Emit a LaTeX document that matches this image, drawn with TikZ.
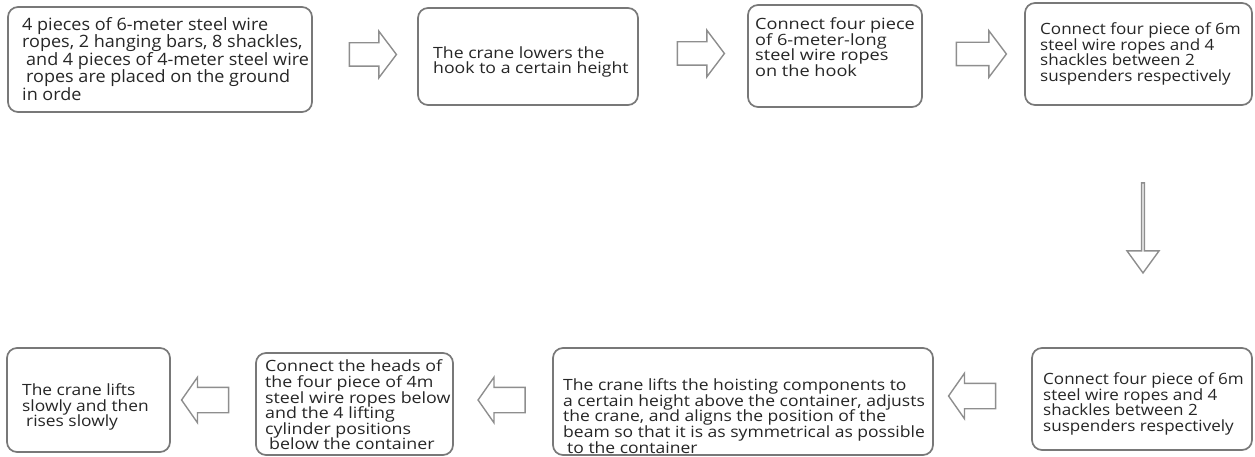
\documentclass[tikz,border=0pt]{standalone}
\usepackage{fontspec}
\setmainfont{Open Sans}
\usetikzlibrary{shapes.arrows}
\definecolor{boxline}{HTML}{787878}
\definecolor{arrowline}{HTML}{8E8E8E}
\definecolor{ink}{HTML}{262626}
% rounded step box given by its corner coordinates
\newcommand\flowbox[5]{%
  \pgfmathsetmacro\fbW{#4-#2}\pgfmathsetmacro\fbH{#5-#3}%
  \pgfmathsetmacro\fbX{(#2+#4)/2}\pgfmathsetmacro\fbY{(#3+#5)/2}%
  \node[stepbox, minimum width=\fbW pt, minimum height=\fbH pt] (#1) at (\fbX,\fbY) {};}
% step text font: size, line spacing, horizontal stretch
\newcommand\stepfont[3]{\fontsize{#1}{#2}\selectfont\addfontfeature{FakeStretch=#3}}
\begin{document}
\begin{tikzpicture}[x=1pt,y=-1pt,
  stepbox/.style={draw=boxline, line width=1.7pt, rounded corners=10pt, fill=white, inner sep=0pt},
  steptext/.style={anchor=west, align=left, inner sep=0pt, text=ink},
  blockarrow/.style={single arrow, draw=arrowline, line width=1.4pt, fill=white,
    inner xsep=0pt, inner ysep=11pt, minimum height=47pt, minimum width=45pt,
    single arrow head extend=11.5pt, single arrow tip angle=106},
  leftarrow/.style={blockarrow, inner ysep=12pt, minimum width=44pt,
    single arrow head extend=10pt, single arrow tip angle=110, shape border rotate=180},
  downarrow/.style={blockarrow, inner ysep=8.5pt, minimum height=90pt, minimum width=32pt,
    single arrow head extend=7.5pt, single arrow tip angle=72, shape border rotate=270},
]
\useasboundingbox (0,0) rectangle (1255,457);

% top row of steps
\flowbox{s1}{8}{7}{312}{112}
\flowbox{s2}{418}{8}{638}{105}
\flowbox{s3}{748}{5}{922}{107}
\flowbox{s4}{1025}{3}{1252}{105}
% bottom row of steps
\flowbox{s5}{1032}{348}{1252}{450}
\flowbox{s6}{553}{348}{933}{455}
\flowbox{s7}{256}{353}{453}{455}
\flowbox{s8}{7}{348}{170}{452}

\node[steptext, font=\stepfont{17}{17.5}{1.06}] (t1) at (22,59)
  {4 pieces of 6-meter steel wire\\ropes, 2 hanging bars, 8 shackles,\\\hspace{4pt}and 4 pieces of 4-meter steel wire\\\hspace{4pt}ropes are placed on the ground\\in orde};
\node[steptext, font=\stepfont{15.5}{15.6}{1.14}] (t2) at (433,62)
  {The crane lowers the\\hook to a certain height};
\node[steptext, font=\stepfont{15.5}{15.6}{1.17}] (t3) at (755,47)
  {Connect four piece\\of 6-meter-long\\steel wire ropes\\on the hook};
\node[steptext, font=\stepfont{15.5}{15.6}{1.10}] (t4) at (1040,54)
  {Connect four piece of 6m\\steel wire ropes and 4\\shackles between 2\\suspenders respectively};
\node[steptext, font=\stepfont{15.5}{15.6}{1.10}] (t5) at (1043,404)
  {Connect four piece of 6m\\steel wire ropes and 4\\shackles between 2\\suspenders respectively};
\node[steptext, font=\stepfont{15.5}{15.6}{1.13}] (t6) at (563,416)
  {The crane lifts the hoisting components to\\a certain height above the container, adjusts\\the crane, and aligns the position of the\\beam so that it is as symmetrical as possible\\\hspace{4pt}to the container};
\node[steptext, font=\stepfont{15.5}{15.6}{1.15}] (t7) at (265,405)
  {Connect the heads of\\the four piece of 4m\\steel wire ropes below\\and the 4 lifting\\cylinder positions\\\hspace{4pt}below the container};
\node[steptext, font=\stepfont{15.5}{15.6}{1.12}] (t8) at (22,407)
  {The crane lifts\\slowly and then\\\hspace{4pt}rises slowly};

% hollow block arrows between the steps
\node[blockarrow] (a1) at (368.5,54.5) {};
\node[blockarrow] (a2) at (696.5,53.5) {};
\node[blockarrow, minimum height=50pt] (a3) at (977,54) {};
\node[downarrow] (a4) at (1143,227) {};
\node[leftarrow] (a5) at (976.5,396) {};
\node[leftarrow] (a6) at (506,400) {};
\node[leftarrow] (a7) at (209.5,400) {};
\end{tikzpicture}
\end{document}
